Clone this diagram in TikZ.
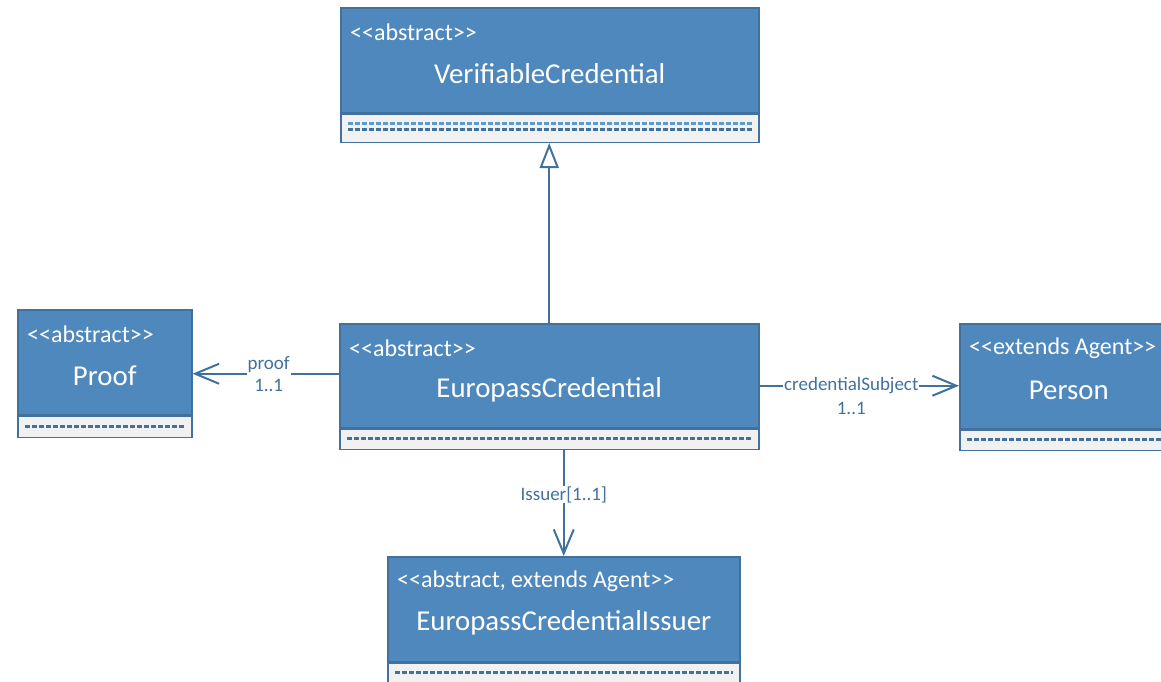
\documentclass[tikz,border=0pt]{standalone}
\usepackage{fontspec}
\setmainfont{Carlito}[Ligatures=TeXOff]
\usetikzlibrary{arrows.meta,calc}
\definecolor{hdrfill}{RGB}{79,136,188}
\definecolor{bordc}{RGB}{65,113,156}
\definecolor{compfill}{RGB}{241,241,241}
\definecolor{lightdash}{RGB}{91,155,213}
\definecolor{linec}{RGB}{65,113,156}
\tikzset{
  hdr/.style={draw=bordc, line width=1.5pt, fill=hdrfill, rectangle, inner sep=0pt, anchor=north west},
  comp/.style={draw=bordc, line width=1.5pt, fill=compfill, rectangle, inner sep=0pt, anchor=north},
  dashline/.style={draw=bordc, line width=2.2pt, dash pattern=on 5pt off 2pt},
  stereo/.style={text=white, font=\fontsize{24}{28}\selectfont, anchor=west, inner sep=0pt},
  ctitle/.style={text=white, font=\fontsize{28.8}{32}\selectfont, inner sep=0pt},
  conn/.style={draw=linec, line width=2pt},
  lbl/.style={text=linec, font=\fontsize{19}{22}\selectfont, fill=white, inner xsep=1pt, inner ysep=0pt, align=center},
  plainlbl/.style={text=linec, font=\fontsize{19}{22}\selectfont, inner sep=0pt},
}
\newcommand\umlclass[8]{%
  \node[hdr, minimum width=#4pt, minimum height=#5pt] (#1) at (#2,#3) {};
  \node[comp, minimum width=#4pt, minimum height=#6pt] (#1c) at (#1.south) {};
  \node[stereo] (#1s) at ([xshift=10pt,yshift=-25pt]#1.north west) {#7};
  \node[ctitle] (#1t) at ([yshift=-67pt]#1.north) {#8};
}
\begin{document}
\begin{tikzpicture}[x=1pt,y=-1pt]
\useasboundingbox (0,0) rectangle (1161,681);

\umlclass{vc}{340}{7}{418}{105}{28}{<<abstract>>}{VerifiableCredential}
\draw[dashline, draw=lightdash] ([xshift=8pt,yshift=-10pt]vcc.north west) -- ([xshift=-8pt,yshift=-10pt]vcc.north east);
\draw[dashline] ([xshift=8pt,yshift=-16pt]vcc.north west) -- ([xshift=-8pt,yshift=-16pt]vcc.north east);

\umlclass{pf}{17}{309}{174}{105}{21}{<<abstract>>}{Proof}
\draw[dashline] ([xshift=8pt,yshift=-11pt]pfc.north west) -- ([xshift=-8pt,yshift=-11pt]pfc.north east);

\umlclass{ec}{339}{323}{419}{104}{20}{<<abstract>>}{EuropassCredential}
\draw[dashline] ([xshift=8pt,yshift=-10pt]ecc.north west) -- ([xshift=-8pt,yshift=-10pt]ecc.north east);

\umlclass{ps}{959}{323}{218}{105}{20}{<<extends Agent>>}{Person}
\draw[dashline] ([xshift=8pt,yshift=-10pt]psc.north west) -- ([xshift=-8pt,yshift=-10pt]psc.north east);

\umlclass{is}{387}{556}{352}{105}{30}{<<abstract, extends Agent>>}{EuropassCredentialIssuer}
\draw[dashline] ([xshift=8pt,yshift=-10pt]isc.north west) -- ([xshift=-8pt,yshift=-10pt]isc.north east);

% generalization
\draw[conn, -{Triangle[open, fill=white, length=25pt, width=19pt, line width=2pt]}] (ec.north) -- (ec.north |- vcc.south);

% proof
\coordinate (p1) at ([yshift=2pt]ec.west);
\draw[conn, -{Straight Barb[length=24pt, width=20pt, line width=2pt]}] (p1) -- (p1 -| pf.east)
  node[lbl, pos=0.48] {proof\\1..1};

% credentialSubject
\coordinate (c1) at ([yshift=-10pt]ec.east);
\draw[conn, -{Straight Barb[length=24pt, width=20pt, line width=2pt]}] (c1) -- (c1 -| ps.west)
  node[lbl, pos=0.46] {credentialSubject}
  node[plainlbl, pos=0.46, yshift=-23pt] {1..1};

% issuer
\coordinate (i1) at (is.north |- ecc.south);
\draw[conn, -{Straight Barb[length=24pt, width=20pt, line width=2pt]}] (i1) -- (is.north)
  node[lbl, pos=0.42] {Issuer[1..1]};
\end{tikzpicture}
\end{document}
